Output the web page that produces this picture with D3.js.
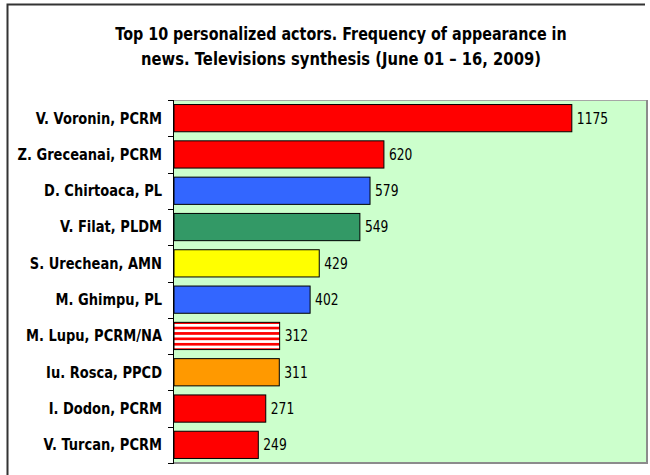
<!DOCTYPE html>
<html>
<head>
<meta charset="utf-8">
<script src="https://cdn.jsdelivr.net/npm/d3@7"></script>
<style>
  html, body { margin: 0; padding: 0; background: #fff; }
  svg { display: block; }
</style>
</head>
<body>
<svg id="chart" width="650" height="475"></svg>
<script>
// ---- data ----
const titleLines = [
  "Top 10 personalized actors. Frequency of appearance in",
  "news. Televisions synthesis (June 01 \u2013 16, 2009)"
];
const categories = [
  "V. Voronin, PCRM",
  "Z. Greceanai, PCRM",
  "D. Chirtoaca, PL",
  "V. Filat, PLDM",
  "S. Urechean, AMN",
  "M. Ghimpu, PL",
  "M. Lupu, PCRM/NA",
  "Iu. Rosca, PPCD",
  "I. Dodon, PCRM",
  "V. Turcan, PCRM"
];
const values = [1175, 620, 579, 549, 429, 402, 312, 311, 271, 249];
const parties = ["PCRM", "PCRM", "PL", "PLDM", "AMN", "PL", "PCRM/NA", "PPCD", "PCRM", "PCRM"];
const partyDomain = ["PCRM", "PL", "PLDM", "AMN", "PCRM/NA", "PPCD"];

// ---- drawing ----
const svg = d3.select("#chart");
const defs = svg.append("defs");
const pat = defs.append("pattern")
  .attr("id", "stripes")
  .attr("patternUnits", "userSpaceOnUse")
  .attr("width", 8).attr("height", 5.4);
pat.append("rect").attr("width", 8).attr("height", 5.4).attr("fill", "#ffffff");
pat.append("rect").attr("y", 2.7).attr("width", 8).attr("height", 2.7).attr("fill", "#ff0000");

const color = d3.scaleOrdinal()
  .domain(partyDomain)
  .range(["#ff0000", "#3366ff", "#339966", "#ffff00", "url(#stripes)", "#ff9900"]);

const x = d3.scaleLinear().domain([0, 1400]).range([174, 648]);
const y = d3.scaleBand().domain(categories).range([100, 463])
  .paddingInner(0.25).paddingOuter(0.125);

// outer frame (left + top)
svg.append("path")
  .attr("d", "M7.5,475 L7.5,4.5 L645,4.5")
  .attr("fill", "none").attr("stroke", "#333").attr("stroke-width", 2);

// title (narrowed to the reference width by a horizontal scale)
const titleWidths = [452, 400];
svg.append("g").selectAll("g").data(titleLines).join("g")
  .attr("class", "title-line")
  .each(function (d, i) {
    const g = d3.select(this);
    const t = g.append("text")
      .attr("text-anchor", "middle")
      .attr("font-family", "DejaVu Sans, sans-serif")
      .attr("font-weight", "bold")
      .attr("font-size", 18)
      .attr("fill", "#000")
      .text(d);
    const w = t.node().getComputedTextLength();
    const s = Math.min(1, titleWidths[i] / w);
    g.attr("transform", `translate(341,${40 + i * 25}) scale(${s},1)`);
  });

// plot area
const [x0, x1] = x.range();
const [y0, y1] = y.range();
svg.append("rect")
  .attr("x", x0).attr("y", y0)
  .attr("width", x1 - x0 - 1).attr("height", y1 - y0)
  .attr("fill", "#ccffcc");
svg.append("path")
  .attr("d", `M${x0},${y0 + 0.5} L${x1 - 1},${y0 + 0.5}`)
  .attr("stroke", "#a6a6a6").attr("stroke-width", 1);
svg.append("path")
  .attr("d", `M${x1 - 1},${y0} L${x1 - 1},${y1} L${x0},${y1}`)
  .attr("fill", "none").attr("stroke", "#8c8c8c").attr("stroke-width", 2);

// bars
svg.append("g").selectAll("rect").data(categories).join("rect")
  .attr("x", x(0))
  .attr("y", d => y(d))
  .attr("width", (d, i) => x(values[i]) - x(0))
  .attr("height", y.bandwidth())
  .attr("fill", (d, i) => color(parties[i]))
  .attr("stroke", "#000")
  .attr("stroke-width", 1);

// value labels (narrow look)
svg.append("g").selectAll("text").data(categories).join("text")
  .attr("transform", (d, i) => `translate(${x(values[i]) + 5},${y(d) + y.bandwidth() / 2}) scale(0.82,1)`)
  .attr("dy", "0.36em")
  .attr("font-family", "DejaVu Sans, sans-serif")
  .attr("font-size", 15)
  .attr("fill", "#000")
  .text((d, i) => values[i]);

// category axis (left)
const step = y.step();
const boundaries = d3.range(categories.length + 1).map(i => y0 + i * step);
const axisG = svg.append("g");
axisG.append("line")
  .attr("x1", x0 - 0.5).attr("x2", x0 - 0.5)
  .attr("y1", y0).attr("y2", y1)
  .attr("stroke", "#000").attr("stroke-width", 1);
axisG.selectAll("line.tick").data(boundaries).join("line")
  .attr("class", "tick")
  .attr("x1", x0 - 6).attr("x2", x0)
  .attr("y1", d => Math.round(d) + 0.5).attr("y2", d => Math.round(d) + 0.5)
  .attr("stroke", "#000").attr("stroke-width", 1);
axisG.selectAll("text").data(categories).join("text")
  .attr("transform", d => `translate(162,${y(d) + y.bandwidth() / 2}) scale(0.87,1)`)
  .attr("dy", "0.36em")
  .attr("text-anchor", "end")
  .attr("font-family", "DejaVu Sans, sans-serif")
  .attr("font-weight", "bold")
  .attr("font-size", 15)
  .attr("fill", "#000")
  .text(d => d);
</script>
</body>
</html>
